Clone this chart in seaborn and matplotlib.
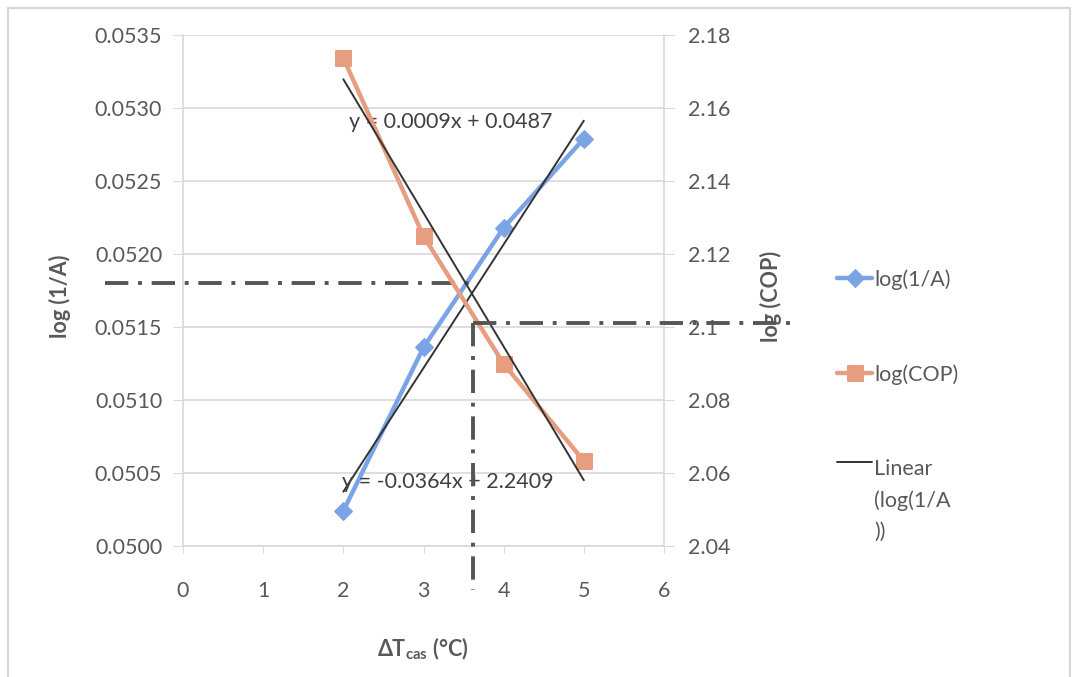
import numpy as np
import pandas as pd
import matplotlib
matplotlib.use("Agg")
import matplotlib.pyplot as plt
import seaborn as sns
from matplotlib.patches import Rectangle

# ---- data ----
dt_cas = [2, 3, 4, 5]
log_inv_a = [0.05024, 0.05136, 0.05218, 0.05279]
log_cop = [2.1737, 2.1249, 2.0899, 2.0633]

x_ticks = [0, 1, 2, 3, 4, 5, 6]
left_ticks = [0.0500, 0.0505, 0.0510, 0.0515, 0.0520, 0.0525, 0.0530, 0.0535]
left_tick_labels = ["0.0500", "0.0505", "0.0510", "0.0515", "0.0520", "0.0525", "0.0530", "0.0535"]
right_ticks = [2.04, 2.06, 2.08, 2.10, 2.12, 2.14, 2.16, 2.18]
right_tick_labels = ["2.04", "2.06", "2.08", "2.1", "2.12", "2.14", "2.16", "2.18"]

eq_inv_a = "y = 0.0009x + 0.0487"
eq_cop = "y = -0.0364x + 2.2409"

# reading guide (dash-dot) values
opt_dt = 3.62
opt_inv_a = 0.0518
opt_cop = 2.101

sns.set_style("white")
plt.rcParams["font.family"] = ["Lato", "DejaVu Sans"]
plt.rcParams["mathtext.fontset"] = "custom"
plt.rcParams["mathtext.rm"] = "Lato:bold"
plt.rcParams["mathtext.it"] = "Lato:bold"
plt.rcParams["axes.grid"] = False

TXT = "#595959"
GRID = "#d9d9d9"
BLUE = "#7aa4e6"
ORANGE = "#e79e80"
FS = 15.5

df = pd.DataFrame({"dt": dt_cas, "inv_a": log_inv_a, "cop": log_cop})

fig = plt.figure(figsize=(10.76, 6.77), dpi=100)
ax = fig.add_axes([183 / 1076, 1 - 546 / 677, 481 / 1076, 511 / 677])
ax2 = ax.twinx()

sns.lineplot(data=df, x="dt", y="inv_a", ax=ax, color=BLUE, lw=3.2, marker="D",
             markersize=9, markeredgecolor=BLUE, label="log(1/A)", zorder=3,
             errorbar=None)
sns.lineplot(data=df, x="dt", y="cop", ax=ax2, color=ORANGE, lw=3.2, marker="s",
             markersize=11, markeredgecolor=ORANGE, label="log(COP)", zorder=3,
             errorbar=None)

sns.regplot(data=df, x="dt", y="inv_a", ax=ax, scatter=False, ci=None, truncate=True,
            color="#333333", line_kws={"lw": 1.4, "zorder": 4}, label="Linear\n(log(1/A\n))")
sns.regplot(data=df, x="dt", y="cop", ax=ax2, scatter=False, ci=None, truncate=True,
            color="#333333", line_kws={"lw": 1.4, "zorder": 4})

for a in (ax, ax2):
    lg = a.get_legend()
    if lg is not None:
        lg.remove()

ax.set_xlim(0, 6)
ax.set_ylim(0.0500, 0.0535)
ax2.set_ylim(2.04, 2.18)
ax.set_xticks(x_ticks)
ax.set_xticklabels([str(v) for v in x_ticks])
ax.set_yticks(left_ticks)
ax.set_yticklabels(left_tick_labels)
ax2.set_yticks(right_ticks)
ax2.set_yticklabels(right_tick_labels)

for a in (ax, ax2):
    for s in a.spines.values():
        s.set_color(GRID)
        s.set_linewidth(1.2)
    a.spines["top"].set_visible(False)
ax.spines["right"].set_visible(False)
ax2.spines["left"].set_visible(False)
ax2.spines["bottom"].set_visible(False)

ax.tick_params(axis="y", which="both", left=True, length=7, color=GRID, labelcolor=TXT,
               labelsize=FS, pad=8)
ax.tick_params(axis="x", bottom=True, length=5, color=GRID, labelcolor=TXT,
               labelsize=FS, pad=20)
ax2.tick_params(axis="y", right=True, length=7, color=GRID, labelcolor=TXT,
                labelsize=FS, pad=10)

ax.set_xlabel("ΔT$_{cas}$ (°C)", fontsize=FS, fontweight="bold", color=TXT)
ax.set_ylabel("log (1/A)", fontsize=FS, fontweight="bold", color=TXT)
ax2.set_ylabel("log (COP)", fontsize=FS, fontweight="bold", color=TXT)
ax.xaxis.set_label_coords((423 - 183) / 481, -(636 - 546) / 511)
ax.yaxis.set_label_coords((71 - 183) / 481, (546 - 296) / 511)
ax2.yaxis.set_label_coords((760 - 183) / 481, (546 - 296) / 511)

# grid: horizontal only
ax.yaxis.grid(True, color=GRID, lw=1.2)
ax.xaxis.grid(False)
ax2.xaxis.grid(False)
ax2.yaxis.grid(False)
ax.set_axisbelow(True)

# equations
ax.text(2.07, ax.get_ylim()[0] + (546 - 122) / 511 * 0.0035, eq_inv_a, fontsize=FS,
        color="#404040", va="center", ha="left", zorder=6)
ax.text(1.98, ax.get_ylim()[0] + (546 - 482) / 511 * 0.0035, eq_cop, fontsize=FS,
        color="#404040", va="center", ha="left", zorder=6)

# dash-dot reading guides
dd = dict(color="#555555", lw=2.8, linestyle=(0, (6, 2.5, 1, 2.5)), clip_on=False, zorder=5)
ax.plot([-0.97, opt_dt], [opt_inv_a, opt_inv_a], **dd)
ax2.plot([opt_dt, opt_dt], [opt_cop, 2.028], **dd)
ax2.plot([opt_dt, 7.57], [opt_cop, opt_cop], **dd)

# legend
handles, labels = [], []
for a in (ax, ax2):
    h, l = a.get_legend_handles_labels()
    handles += h
    labels += l
order = [labels.index("log(1/A)"), labels.index("log(COP)"),
         labels.index("Linear\n(log(1/A\n))")]
leg = fig.legend([handles[i] for i in order], [labels[i] for i in order],
                 loc="upper left", bbox_to_anchor=(818 / 1076, 1 - 250 / 677),
                 frameon=False, fontsize=FS, labelspacing=3.45, handlelength=1.6,
                 handletextpad=0.1, labelcolor=TXT)
for t in leg.get_texts():
    t.set_linespacing(1.68)
# align the trendline handle with the first line of its wrapped label
lh = leg.legend_handles[2]
yd = np.asarray(lh.get_ydata(), dtype=float)
lh.set_ydata(yd + 28)

# outer frame
fig.patches.append(Rectangle((8 / 1076, -0.01), 1062 / 1076, 1 - 8 / 677 + 0.01,
                             transform=fig.transFigure, fill=False,
                             edgecolor="#d6d6d6", lw=1.5))

fig.savefig("out.png", dpi=100)
